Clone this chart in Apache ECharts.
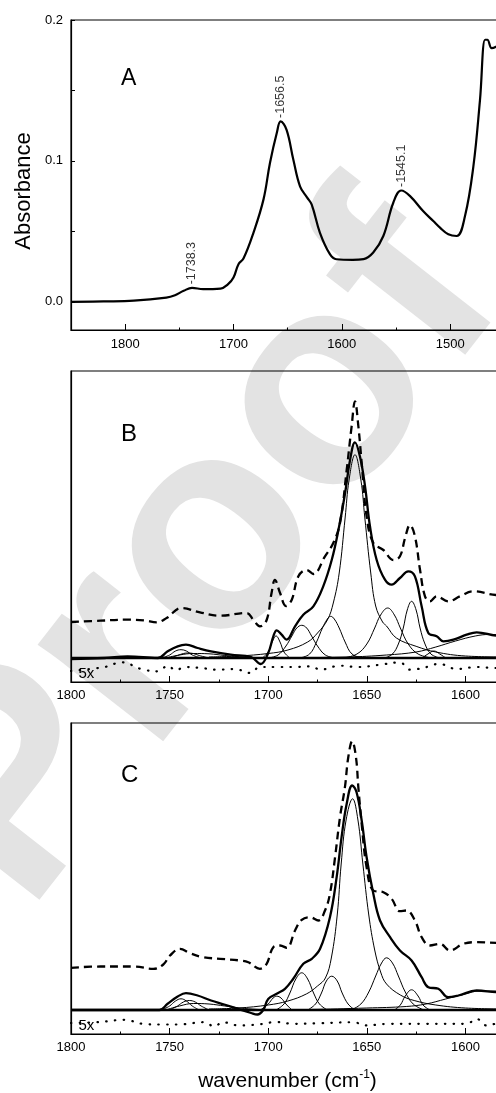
<!DOCTYPE html>
<html>
<head>
<meta charset="utf-8">
<script src="https://cdn.jsdelivr.net/npm/echarts@6/dist/echarts.min.js"></script>
<style>
html,body{margin:0;padding:0;background:#fff;}
#chart{width:496px;height:1093px;}
</style>
</head>
<body>
<div id="chart"></div>
<script>
const FONT = '"Liberation Sans", Arial, Helvetica, sans-serif';

// ---- Panel A: absorbance spectrum [wavenumber, absorbance] ----
const specA = [[1850,0.000],[1820,0.0003],[1792,0.0008],[1762,0.003],[1754,0.0047],[1746,0.0078],[1738.3,0.0099],[1728,0.009],[1712,0.0094],[1705,0.0125],[1700,0.0172],[1695.4,0.0267],[1690.8,0.0307],[1681.6,0.049],[1672.3,0.0727],[1666.3,0.0987],[1660,0.120],[1656.5,0.128],[1651,0.122],[1644.8,0.101],[1638.6,0.082],[1632,0.074],[1627.8,0.069],[1620.2,0.049],[1611,0.0338],[1605,0.0302],[1590,0.0298],[1580,0.0303],[1571,0.035],[1561.7,0.0467],[1552.5,0.0703],[1545.1,0.079],[1537,0.075],[1525,0.0644],[1515.6,0.0573],[1509.4,0.0526],[1501.7,0.0479],[1494,0.0467],[1486.3,0.0609],[1478.6,0.096],[1472.5,0.143],[1467.8,0.186],[1465.7,0.186],[1461.7,0.180],[1457.7,0.181],[1452,0.184],[1445,0.183]];
const peakWavenumbers = [1738.3, 1656.5, 1545.1];
const peakHeights = [0.0099, 0.128, 0.079];

// ---- Panel B ----
const bDashed = [[1800,0.036],[1785,0.0373],[1772,0.0383],[1763,0.0377],[1756.5,0.0357],[1751.5,0.040],[1744,0.050],[1734.6,0.0457],[1724.4,0.0423],[1711,0.045],[1707.5,0.038],[1704.2,0.0317],[1700.8,0.038],[1698.3,0.065],[1696.6,0.078],[1694,0.065],[1691,0.052],[1688.1,0.058],[1684.7,0.0817],[1680.5,0.088],[1677.1,0.084],[1671.2,0.1017],[1667,0.115],[1663.6,0.135],[1660.2,0.188],[1657.7,0.2317],[1656,0.2567],[1654.3,0.232],[1652.6,0.195],[1650.1,0.1417],[1646.7,0.115],[1641.6,0.108],[1636.5,0.098],[1633.2,0.1017],[1630.6,0.12],[1628.1,0.133],[1625.6,0.1217],[1623,0.088],[1620.5,0.0617],[1618,0.0567],[1614.6,0.0617],[1608.7,0.0567],[1602.7,0.0617],[1596,0.0667],[1584.5,0.063],[1570,0.062]];
const bSpectrum = [[1800,-0.001],[1783,0.0],[1771.3,0.0017],[1756,0.0],[1751,0.0067],[1745.9,0.0117],[1741.7,0.0133],[1735.8,0.010],[1729,0.0067],[1719,0.0033],[1708.7,0.001],[1703.8,-0.006],[1700,0.005],[1697.4,0.0217],[1695.7,0.0277],[1693.2,0.0233],[1690.7,0.0183],[1686.4,0.0317],[1682.2,0.0433],[1677.1,0.0517],[1672.1,0.0717],[1667.8,0.098],[1664.4,0.128],[1661,0.165],[1658.5,0.198],[1656,0.2157],[1653.5,0.2017],[1650.9,0.1717],[1648.4,0.1317],[1645,0.098],[1640.8,0.0783],[1637.4,0.0733],[1633.2,0.080],[1629,0.0867],[1625.6,0.0817],[1622.2,0.0517],[1618.8,0.025],[1614.6,0.0217],[1611.2,0.0167],[1606.1,0.0183],[1599.4,0.0233],[1594.3,0.0257],[1584.5,0.0223],[1570,0.021]];
const b1744 = [[1754,0],[1750,0.003],[1747,0.007],[1744.2,0.0083],[1741.5,0.007],[1738.5,0.003],[1734,0]];
const b1741 = [[1750,0],[1746,0.0025],[1743,0.0045],[1740.8,0.005],[1738,0.0045],[1735,0.0025],[1730,0]];
const b1732 = [[1752,0],[1745,0.003],[1738,0.0045],[1730,0.0042],[1722,0.0025],[1712,0.001],[1700,0]];
const b1696 = [[1703,0],[1700,0.006],[1698,0.016],[1696,0.022],[1694,0.016],[1692,0.006],[1689,0]];
const b1683 = [[1700,0],[1695,0.003],[1691,0.012],[1688,0.022],[1685.5,0.030],[1683,0.0327],[1680.5,0.030],[1678,0.022],[1675,0.012],[1671,0.003],[1666,0]];
const b1668 = [[1684,0],[1679,0.004],[1675.5,0.016],[1672.5,0.030],[1670,0.039],[1668.3,0.0417],[1666.5,0.039],[1664,0.030],[1661,0.016],[1657.5,0.004],[1652,0]];
const b1656 = [[1730,0.001],[1715,0.002],[1700,0.0045],[1690,0.008],[1680,0.016],[1675,0.025],[1670,0.038],[1667,0.055],[1664,0.085],[1661,0.14],[1659,0.178],[1656,0.2033],[1653,0.178],[1651,0.14],[1648,0.085],[1645.5,0.052],[1642,0.036],[1640,0.032],[1635,0.02],[1625,0.0117],[1615,0.006],[1600,0.002],[1580,0.001]];
const b1640 = [[1662,0],[1655,0.004],[1650,0.014],[1646,0.030],[1643,0.043],[1639.4,0.050],[1636,0.043],[1633,0.030],[1629,0.014],[1624,0.004],[1617,0]];
const b1627 = [[1641,0],[1637,0.004],[1634,0.014],[1631.5,0.030],[1629.5,0.048],[1627.3,0.0567],[1625,0.048],[1623,0.030],[1620.5,0.014],[1617.5,0.004],[1613,0]];
const b1616 = [[1622,0],[1619,0.004],[1616,0.007],[1613,0.004],[1610,0]];
const b1590 = [[1700,0],[1660,0.001],[1640,0.003],[1625,0.006],[1615,0.011],[1605,0.017],[1595,0.022],[1588,0.0235],[1580,0.023],[1570,0.022]];
const bBaseline = [[1800,0],[1560,0]];
const bResidual = [[1800,-0.013],[1783,-0.009],[1774,-0.0043],[1764.5,-0.011],[1755.7,-0.0133],[1751,-0.0077],[1746.8,-0.0123],[1742.5,-0.009],[1734,-0.010],[1725.6,-0.0117],[1717.2,-0.011],[1708.7,-0.015],[1704.5,-0.009],[1696.6,-0.009],[1687.3,-0.009],[1677.9,-0.0083],[1673.7,-0.0117],[1663.6,-0.0077],[1654.3,-0.009],[1643.3,-0.0067],[1633.2,-0.0043],[1628.1,-0.0117],[1618,-0.0083],[1613.7,-0.0057],[1604.4,-0.011],[1594.3,-0.009],[1584.5,-0.010],[1570,-0.009]];

// ---- Panel C ----
const cDashed = [[1800,0.0422],[1785,0.0435],[1768,0.0435],[1758.3,0.0412],[1753.2,0.0455],[1749.8,0.0545],[1744.7,0.0612],[1739.7,0.0568],[1733,0.0528],[1724.4,0.0512],[1714.3,0.0495],[1710.1,0.0478],[1704.2,0.0412],[1700.8,0.0462],[1697.4,0.0628],[1694,0.0645],[1690.6,0.0622],[1686.4,0.0795],[1683,0.0902],[1678.8,0.0928],[1674.6,0.0895],[1671.2,0.0995],[1668.7,0.1162],[1666.1,0.1528],[1663.6,0.1928],[1661.1,0.2228],[1659.4,0.2528],[1657.4,0.2688],[1655.5,0.2528],[1654.3,0.2228],[1652.6,0.1862],[1650.1,0.1428],[1646.7,0.1195],[1641.6,0.1178],[1637.4,0.1112],[1633.2,0.0988],[1629.8,0.0995],[1625.6,0.0895],[1622.2,0.0728],[1618,0.0645],[1612.9,0.0662],[1607.8,0.0595],[1601.1,0.0662],[1594.3,0.0678],[1584.5,0.0672],[1570,0.067]];
const cSpectrum = [[1800,0],[1766,0],[1755.2,0.0],[1751,0.0062],[1745.9,0.0135],[1741.7,0.0168],[1735.8,0.0145],[1729,0.0095],[1722.3,0.0055],[1715.5,0.0012],[1708.7,-0.003],[1705.5,-0.0045],[1702.5,0.0],[1700,0.011],[1695.7,0.0162],[1691.5,0.0212],[1687.3,0.0312],[1682.2,0.0462],[1677.9,0.0512],[1673.7,0.0612],[1668.7,0.0928],[1665.3,0.1328],[1662.8,0.1728],[1660.2,0.2062],[1657.4,0.2245],[1655.2,0.2178],[1652.6,0.1895],[1650.1,0.1528],[1646.7,0.1162],[1643.3,0.0895],[1638.2,0.0728],[1633.2,0.0595],[1627.3,0.0495],[1622.2,0.0328],[1618.8,0.0228],[1613.7,0.0212],[1608.7,0.0128],[1603.6,0.0145],[1594.3,0.0195],[1584.5,0.0178],[1570,0.017]];
const c1744 = [[1754,0],[1750,0.004],[1747,0.009],[1744.2,0.0112],[1741.5,0.009],[1738.5,0.004],[1735,0]];
const c1740 = [[1750,0],[1746,0.004],[1743,0.008],[1740,0.0095],[1737,0.008],[1734,0.004],[1730,0]];
const c1732 = [[1752,0],[1745,0.004],[1738,0.0065],[1730,0.006],[1722,0.004],[1712,0.0015],[1700,0]];
const c1696 = [[1704,0],[1700,0.006],[1697.5,0.012],[1695.7,0.0138],[1693.5,0.012],[1691,0.006],[1688,0]];
const c1683 = [[1696,0],[1692,0.006],[1689,0.017],[1686,0.031],[1683,0.0372],[1680,0.031],[1677,0.017],[1674,0.006],[1670,0]];
const c1668 = [[1680,0],[1676,0.006],[1673,0.017],[1670.5,0.029],[1667.8,0.0338],[1665,0.029],[1662.5,0.017],[1659.5,0.006],[1656,0]];
const c1657 = [[1730,0.001],[1715,0.002],[1700,0.005],[1690,0.009],[1680.5,0.0162],[1675,0.024],[1671,0.032],[1668,0.052],[1665,0.095],[1663,0.146],[1660.5,0.19],[1657.2,0.2112],[1654.5,0.19],[1652,0.146],[1649,0.095],[1646,0.06],[1643,0.038],[1640,0.026],[1633,0.015],[1626,0.0095],[1615,0.005],[1600,0.002],[1580,0.001]];
const c1640 = [[1658,0],[1653,0.006],[1649,0.018],[1645.5,0.034],[1642.5,0.047],[1640,0.0522],[1637,0.047],[1634,0.034],[1630.5,0.018],[1626.5,0.006],[1621,0]];
const c1627 = [[1636,0],[1633,0.005],[1630.5,0.014],[1627.3,0.0202],[1624,0.014],[1621.5,0.005],[1618,0]];
const c1590 = [[1720,0],[1680,0.0005],[1650,0.002],[1630,0.0035],[1620,0.006],[1610,0.011],[1600,0.016],[1593,0.019],[1585,0.019],[1570,0.018]];
const cBaseline = [[1800,0],[1560,0]];
const cResidual = [[1800,-0.013],[1785.6,-0.012],[1773,-0.0098],[1763.6,-0.0138],[1754.4,-0.0145],[1745.9,-0.0145],[1732.4,-0.0122],[1727.3,-0.0165],[1723.1,-0.0122],[1714.7,-0.0155],[1705.3,-0.0145],[1695.7,-0.012],[1687.3,-0.0138],[1673.7,-0.0132],[1656,-0.0122],[1651.8,-0.0155],[1638.2,-0.0138],[1619.7,-0.0138],[1599.4,-0.0138],[1594.3,-0.0088],[1589.3,-0.0155],[1584.5,-0.0138],[1570,-0.013]];

const bBands = [b1744, b1741, b1732, b1696, b1683, b1668, b1656, b1640, b1627, b1616, b1590];
const cBands = [c1744, c1740, c1732, c1696, c1683, c1668, c1657, c1640, c1627, c1590];

// ---- axis ticks ----
const ticksAMajor = [1800, 1700, 1600, 1500];
const ticksAMinor = [1750, 1650, 1550];
const absTicks = [0, 0.05, 0.1, 0.15, 0.2];
const absLabels = [0, 0.1, 0.2];
const ticksBCMajor = [1800, 1750, 1700, 1650, 1600];
const ticksBCMinor = [1775, 1725, 1675, 1625, 1575];

const chart = echarts.init(document.getElementById('chart'), null, {renderer: 'canvas', width: 496, height: 1093});

function grid(top, height, width) {
  return {left: 71, top, width, height, show: true, borderColor: '#000', borderWidth: 1.2,
    backgroundColor: 'rgba(0,0,0,0)', containLabel: false, outerBoundsMode: 'none'};
}
const tickText = {color: '#000', fontSize: 13, fontFamily: FONT};

function xMain(gridIndex, min, max, ticks, margin) {
  return {type: 'value', gridIndex, position: 'bottom', min, max, inverse: true,
    axisLine: {show: true, onZero: false, lineStyle: {color: '#000', width: 1.2}},
    axisTick: {show: true, inside: true, length: 6, customValues: ticks, lineStyle: {color: '#000', width: 1}},
    axisLabel: Object.assign({show: true, customValues: ticks, margin, formatter: v => String(v)}, tickText),
    splitLine: {show: false}, minorTick: {show: false}, minorSplitLine: {show: false}};
}
function xMinor(gridIndex, min, max, ticks) {
  return {type: 'value', gridIndex, position: 'bottom', min, max, inverse: true,
    axisLine: {show: false, onZero: false},
    axisTick: {show: true, inside: true, length: 2.5, customValues: ticks, lineStyle: {color: '#000', width: 1}},
    axisLabel: {show: false}, splitLine: {show: false}};
}
function yPlain(gridIndex) {
  return {type: 'value', gridIndex, min: -0.024, max: 0.287,
    axisLine: {show: true, onZero: false, lineStyle: {color: '#000', width: 1.2}},
    axisTick: {show: false}, axisLabel: {show: false}, splitLine: {show: false}};
}

function curve(xi, yi, data, width, type, z, cap) {
  return {type: 'line', xAxisIndex: xi, yAxisIndex: yi, data, smooth: 0.4,
    showSymbol: false, symbol: 'none', silent: true, animation: false, z: z || 2,
    lineStyle: {color: '#000', width, type: type || 'solid', cap: cap || 'butt', join: 'round'}};
}

const series = [
  curve(0, 0, specA, 2.2),
  {type: 'scatter', xAxisIndex: 0, yAxisIndex: 0, silent: true, animation: false,
    data: peakWavenumbers.map((w, i) => [w, peakHeights[i]]),
    symbolSize: 1, itemStyle: {color: 'rgba(0,0,0,0)'},
    label: {show: true, position: 'top', distance: 3, rotate: 90, align: 'left', verticalAlign: 'middle',
      formatter: p => '-' + p.value[0].toFixed(1), fontSize: 12.5, color: '#000', fontFamily: FONT}},
  curve(2, 1, bDashed, 2.3, [8, 5], 3),
  ...bBands.map(d => curve(2, 1, d, 1, 'solid', 2)),
  curve(2, 1, bSpectrum, 2.3, 'solid', 4),
  curve(2, 1, bBaseline, 2.5, 'solid', 4),
  curve(2, 1, bResidual, 2.2, [0.5, 8.3], 3, 'round'),
  curve(4, 2, cDashed, 2.3, [8, 5], 3),
  ...cBands.map(d => curve(4, 2, d, 1, 'solid', 2)),
  curve(4, 2, cSpectrum, 2.3, 'solid', 4),
  curve(4, 2, cBaseline, 2.5, 'solid', 4),
  curve(4, 2, cResidual, 2.2, [0.5, 8.3], 3, 'round')
];

function label(text, x, y, size, extra) {
  return Object.assign({type: 'text', x, y, z: 10, silent: true,
    style: {text, fill: '#000', font: size + 'px ' + FONT, align: 'left', verticalAlign: 'top'}}, extra || {});
}

chart.setOption({
  animation: false,
  backgroundColor: '#fff',
  grid: [grid(20, 310, 487.5), grid(371, 311, 473.3), grid(723, 311, 473.3)],
  xAxis: [
    xMain(0, 1400, 1850, ticksAMajor, 8), xMinor(0, 1400, 1850, ticksAMinor),
    xMain(1, 1560, 1800, ticksBCMajor, 7), xMinor(1, 1560, 1800, ticksBCMinor),
    xMain(2, 1560, 1800, ticksBCMajor, 7), xMinor(2, 1560, 1800, ticksBCMinor)
  ],
  yAxis: [
    {type: 'value', gridIndex: 0, min: -0.02, max: 0.2,
      axisLine: {show: true, onZero: false, lineStyle: {color: '#000', width: 1.2}},
      axisTick: {show: true, inside: true, length: 4, customValues: absTicks, lineStyle: {color: '#000', width: 1}},
      axisLabel: Object.assign({show: true, customValues: absLabels, margin: 8, formatter: v => v.toFixed(1)}, tickText),
      splitLine: {show: false}},
    yPlain(1), yPlain(2)
  ],
  graphic: [
    // draft watermark
    {type: 'text', x: 203, y: 556, rotation: 52 * Math.PI / 180, z: -5, silent: true,
      style: {text: 'Proof', fill: '#e3e3e3', font: 'bold 300px ' + FONT, align: 'center', verticalAlign: 'middle'}},
    label('A', 121, 67.5, 23),
    label('B', 121, 422, 24),
    label('C', 121, 763, 24),
    label('5x', 78.5, 673.5, 15, {style: {text: '5x', fill: '#000', font: '15px ' + FONT, align: 'left', verticalAlign: 'middle'}}),
    label('5x', 78.5, 1025.5, 15, {style: {text: '5x', fill: '#000', font: '15px ' + FONT, align: 'left', verticalAlign: 'middle'}}),
    {type: 'text', x: 23.5, y: 191, rotation: Math.PI / 2, z: 10, silent: true,
      style: {text: 'Absorbance', fill: '#000', font: '22px ' + FONT, align: 'center', verticalAlign: 'middle'}},
    {type: 'text', x: 287.5, y: 1081, z: 10, silent: true,
      style: {text: '{a|wavenumber (cm}{s|-1}{a|)}', align: 'center', verticalAlign: 'middle',
        rich: {a: {fill: '#000', fontSize: 21, fontFamily: FONT, lineHeight: 24},
               s: {fill: '#000', fontSize: 12, fontFamily: FONT, lineHeight: 24, verticalAlign: 'top'}}}}
  ],
  series
});
</script>
</body>
</html>
